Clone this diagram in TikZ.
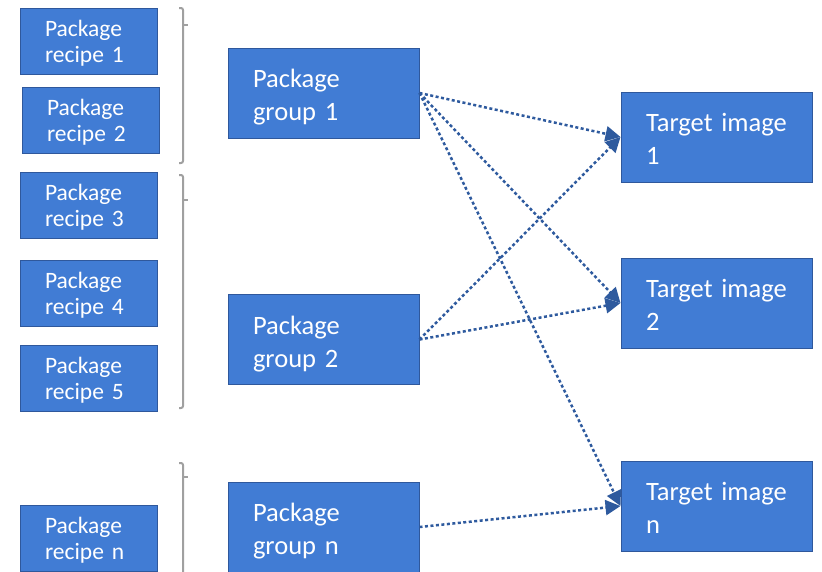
\documentclass[tikz,border=0pt]{standalone}
\usepackage{fontspec}
\setmainfont{Carlito}
\usetikzlibrary{arrows.meta}
\usetikzlibrary{positioning}

\definecolor{boxblue}{RGB}{65,124,212}
\definecolor{boxedge}{RGB}{47,88,156}
\definecolor{linkblue}{RGB}{46,90,158}
\definecolor{bracegray}{RGB}{160,160,160}

\begin{document}
\begin{tikzpicture}[x=1pt,y=-1pt,
  recipe/.style={draw=boxedge,line width=1pt,fill=boxblue,text=white,
    minimum width=137pt,minimum height=66pt,inner xsep=25pt,
    text width=87pt,text height=21pt,text depth=31pt,align=left,
    font=\fontsize{23.5}{26}\selectfont},
  group/.style={draw=boxedge,line width=1pt,fill=boxblue,text=white,
    minimum width=191pt,minimum height=90pt,inner xsep=25pt,
    text width=141pt,text height=28.5pt,text depth=39pt,align=left,
    font=\fontsize{26.5}{33}\selectfont},
  link/.style={draw=linkblue,line width=2.5pt,dash pattern=on 3pt off 2.5pt,
    -{Triangle[length=15pt,width=15pt,sep=0pt]}},
  brace/.style={draw=bracegray,line width=2pt,rounded corners=2pt}]
  \useasboundingbox (0,0) rectangle (822,571);
  \clip (0,0) rectangle (822,571);

  % recipes
  \node[recipe] (recipe1) at (88.5,41) {Package\\recipe 1};
  \node[recipe] (recipe2) at (90.5,120) {Package\\recipe 2};
  \node[recipe] (recipe3) at (88.5,205) {Package\\recipe 3};
  \node[recipe] (recipe4) at (88.5,293.5) {Package\\recipe 4};
  \node[recipe] (recipe5) at (88.5,378) {Package\\recipe 5};
  \node[recipe] (recipen) at (88.5,538.5) {Package\\recipe n};

  % brackets
  \draw[brace] (179,8) -| (183,163) -- (179,163);
  \draw[brace] (183,25) -- (188,25);
  \draw[brace] (179,175) -| (183,408) -- (179,408);
  \draw[brace] (183,200) -- (188,200);
  \draw[brace] (179,463) -| (183,600);
  \draw[brace] (183,477) -- (188,477);

  % groups
  \node[group] (group1) at (323.5,93) {Package\\group 1};
  \node[group] (group2) at (323.5,339.5) {Package\\group 2};
  \node[group] (groupn) at (323.5,527) {Package\\group n};

  % targets
  \node[group] (target1) at (716.5,137) {Target~image\\1};
  \node[group] (target2) at (716.5,303) {Target~image\\2};
  \node[group] (targetn) at (716.5,506) {Target~image\\n};

  \draw[link] (group1.east) -- (target1.west);
  \draw[link] (group1.east) -- (target2.west);
  \draw[link] (group1.east) -- (targetn.west);

  \draw[link] (group2.east) -- (target1.west);
  \draw[link] (group2.east) -- (target2.west);

  \draw[link] (groupn.east) -- (targetn.west);
\end{tikzpicture}
\end{document}
